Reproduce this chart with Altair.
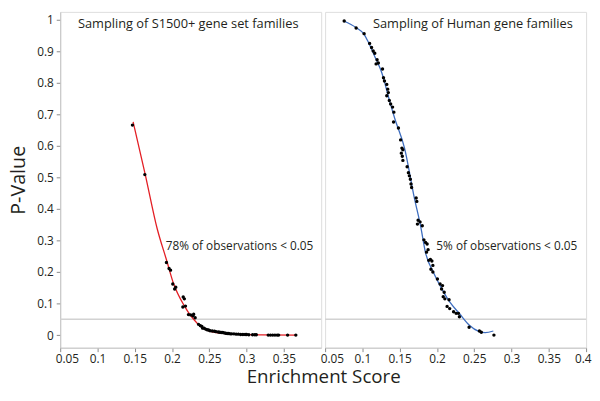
import altair as alt
import pandas as pd

# ---------------- data ----------------
# S1500+ gene set families (left panel)
s1500_score = [0.1469, 0.1635, 0.1925, 0.196, 0.198, 0.201, 0.2035, 0.205, 0.215, 0.2165,
               0.2145, 0.218, 0.222, 0.225, 0.228, 0.231, 0.229, 0.2355, 0.238, 0.240,
               0.241, 0.243, 0.245, 0.247, 0.249, 0.251, 0.254, 0.257, 0.259, 0.262,
               0.264, 0.266, 0.268, 0.270, 0.272, 0.274, 0.276, 0.278, 0.280, 0.283,
               0.286, 0.289, 0.292, 0.295, 0.298, 0.300, 0.303, 0.308, 0.311, 0.313,
               0.329, 0.332, 0.335, 0.338, 0.341, 0.343, 0.355, 0.366]
s1500_p = [0.666, 0.509, 0.230, 0.211, 0.206, 0.162, 0.146, 0.152, 0.121, 0.115,
           0.089, 0.092, 0.065, 0.064, 0.061, 0.055, 0.066, 0.034, 0.030, 0.027,
           0.022, 0.022, 0.019, 0.017, 0.016, 0.014, 0.013, 0.012, 0.011, 0.010,
           0.009, 0.008, 0.008, 0.007, 0.006, 0.005, 0.005, 0.004, 0.004, 0.004,
           0.003, 0.003, 0.002, 0.002, 0.002, 0.002, 0.001, 0.001, 0.001, 0.001,
           0.0, 0.0, 0.0, 0.0, 0.0, 0.0, 0.0, 0.0]
s1500_fit_score = [0.1478, 0.164, 0.180, 0.193, 0.2015, 0.2165, 0.234, 0.2515, 0.268, 0.284, 0.32, 0.366]
s1500_fit_p = [0.676, 0.510, 0.338, 0.235, 0.167, 0.0925, 0.037, 0.0115, 0.0055, 0.003, 0.0008, 0.0]

# Human gene families (right panel)
human_score = [0.0756, 0.0916, 0.1023, 0.1097, 0.1123, 0.1145, 0.1166, 0.1197, 0.1184, 0.1214,
               0.1270, 0.1283, 0.1296, 0.1327, 0.1340, 0.1348, 0.1327, 0.1361, 0.1379, 0.1405,
               0.1422, 0.1418, 0.1483, 0.1513, 0.1530, 0.1543, 0.1522, 0.1535, 0.1543, 0.1600,
               0.1617, 0.1630, 0.1643, 0.1652, 0.1660, 0.1721, 0.1730, 0.1747, 0.1773, 0.1738,
               0.1803, 0.1825, 0.1847, 0.1868, 0.1860, 0.1881, 0.1890, 0.1912, 0.1932, 0.1945,
               0.1919, 0.1945, 0.2006, 0.2042, 0.2075, 0.2062, 0.2097, 0.2084, 0.2106, 0.2162,
               0.2136, 0.2171, 0.2223, 0.2257, 0.2288, 0.2301, 0.2431, 0.2569, 0.2595, 0.2764]
human_p = [0.996, 0.974, 0.956, 0.925, 0.912, 0.901, 0.894, 0.873, 0.860, 0.863,
           0.844, 0.816, 0.806, 0.795, 0.780, 0.769, 0.759, 0.744, 0.733, 0.723,
           0.707, 0.676, 0.657, 0.619, 0.593, 0.588, 0.577, 0.567, 0.554, 0.534,
           0.515, 0.505, 0.494, 0.479, 0.468, 0.435, 0.424, 0.364, 0.359, 0.352,
           0.347, 0.302, 0.294, 0.289, 0.263, 0.271, 0.237, 0.240, 0.235, 0.221,
           0.209, 0.200, 0.178, 0.162, 0.157, 0.146, 0.136, 0.122, 0.115, 0.112,
           0.091, 0.084, 0.074, 0.069, 0.069, 0.058, 0.025, 0.013, 0.009, 0.000]
human_fit_score = [0.0750, 0.0916, 0.1023, 0.1088, 0.1175, 0.126, 0.137, 0.1435, 0.1565, 0.1695,
                   0.1782, 0.1847, 0.1955, 0.2042, 0.2171, 0.230, 0.2431, 0.2561, 0.2647, 0.2756]
human_fit_p = [0.996, 0.975, 0.954, 0.925, 0.879, 0.832, 0.738, 0.686, 0.593, 0.437,
               0.344, 0.261, 0.198, 0.157, 0.105, 0.0685, 0.032, 0.0115, 0.0075, 0.013]

threshold = [0.05]
panel_titles = ["Sampling of S1500+ gene set families", "Sampling of Human gene families"]
notes = ["78% of observations < 0.05", "5% of observations < 0.05"]
x_ticks_left = [0.05, 0.1, 0.15, 0.2, 0.25, 0.3, 0.35]
x_ticks_right = [0.05, 0.1, 0.15, 0.2, 0.25, 0.3, 0.35, 0.4]
y_ticks = [0, 0.1, 0.2, 0.3, 0.4, 0.5, 0.6, 0.7, 0.8, 0.9, 1]

FONT = "Open Sans"
TXT = "#231f20"
GRAY = "#c4c4c4"
W, H = 265, 341

xscale = alt.Scale(domain=[0.05, 0.4], nice=False, zero=False)
yscale = alt.Scale(domain=[-0.04, 1.025], nice=False, zero=False)


def x_axis(vals):
    return alt.Axis(values=vals, format="~g", title=None, grid=False, tickSize=4,
                    labelPadding=2, labelFontSize=12, labelFont=FONT, labelColor=TXT,
                    tickColor="#8a8a8a", domainColor=GRAY, labelFlush=True,
                    labelFlushOffset=5)


def panel(sx, sy, fx, fy, color, title, note, ticks, title_x, note_x, show_y):
    pts = pd.DataFrame({"score": sx, "p": sy})
    fit = pd.DataFrame({"score": fx, "p": fy})
    thr = pd.DataFrame({"p": threshold})
    if show_y:
        yaxis = alt.Axis(values=y_ticks, format="~g", title="P-Value", grid=False,
                         tickSize=4, labelPadding=3, labelFontSize=12, labelFont=FONT,
                         labelColor=TXT, tickColor="#8a8a8a", domainColor=GRAY,
                         titleFont=FONT, titleFontSize=20, titleFontWeight="normal",
                         titleColor=TXT, titlePadding=8)
    else:
        yaxis = None
    rule = alt.Chart(thr).mark_rule(color="#d2d2d2", strokeWidth=1.5).encode(
        y=alt.Y("p:Q", scale=yscale, axis=yaxis))
    line = alt.Chart(fit).mark_line(color=color, strokeWidth=1.3, interpolate="monotone").encode(
        x=alt.X("score:Q", scale=xscale, axis=x_axis(ticks)),
        y=alt.Y("p:Q", scale=yscale, axis=yaxis))
    dots = alt.Chart(pts).mark_circle(size=12, color="black", opacity=1).encode(
        x=alt.X("score:Q", scale=xscale, axis=x_axis(ticks)),
        y=alt.Y("p:Q", scale=yscale, axis=yaxis))
    ttl = alt.Chart(pd.DataFrame({"t": [title]})).mark_text(
        font=FONT, fontSize=13, color=TXT, align="center", baseline="alphabetic").encode(
        text="t:N", x=alt.value(title_x), y=alt.value(16))
    nt = alt.Chart(pd.DataFrame({"t": [note]})).mark_text(
        font=FONT, fontSize=12, color=TXT, align="right", baseline="alphabetic").encode(
        text="t:N", x=alt.value(note_x), y=alt.value(242))
    return alt.layer(rule, line, dots, ttl, nt).properties(width=W, height=H)


left = panel(s1500_score, s1500_p, s1500_fit_score, s1500_fit_p, "#e31e24",
             panel_titles[0], notes[0], x_ticks_left, 130, 257, True)
right = panel(human_score, human_p, human_fit_score, human_fit_p, "#3d6dbf",
              panel_titles[1], notes[1], x_ticks_right, 150, 256, False)

chart = alt.hconcat(left, right, spacing=4, bounds="flush").properties(
    padding=0,
    title=alt.TitleParams("Enrichment Score", orient="bottom", anchor="middle",
                          font=FONT, fontSize=19, fontWeight="normal", color=TXT,
                          offset=3, dx=24)
).configure_view(stroke=GRAY, strokeWidth=1.2).configure(background="white")

chart.save("out.html", embed_options={"renderer": "svg", "actions": False})
